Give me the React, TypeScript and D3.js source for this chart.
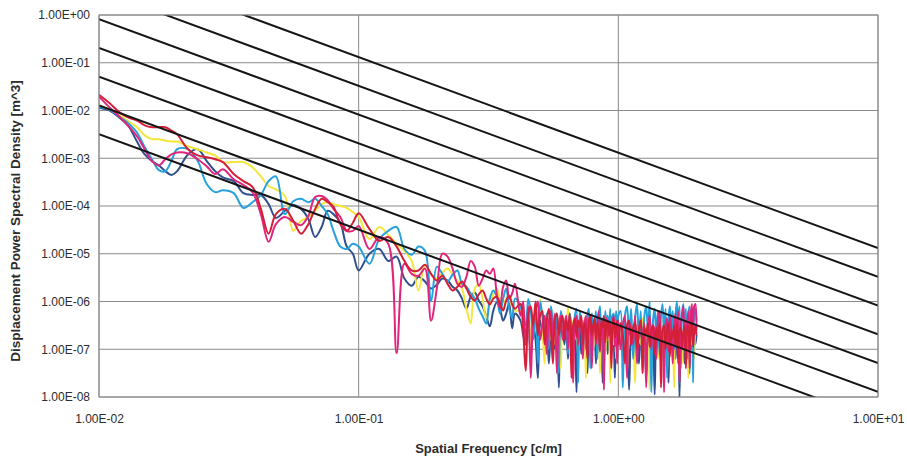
import React, { useEffect, useRef } from 'react';
import * as d3 from 'd3';

// spatial frequency [c/m], shared by all measured runs
const freqs = [
  0.010, 0.011, 0.012, 0.013, 0.014, 0.015, 0.016, 0.017, 0.018, 0.019,
  0.020, 0.022, 0.024, 0.026, 0.028, 0.030, 0.033, 0.036, 0.039, 0.042,
  0.045, 0.048, 0.052, 0.056, 0.060, 0.064, 0.068, 0.072, 0.076, 0.080,
  0.085, 0.090, 0.095, 0.100,
  0.11, 0.12, 0.13, 0.14, 0.15, 0.16, 0.17, 0.18, 0.19, 0.20,
  0.21, 0.22, 0.23, 0.24, 0.25, 0.26, 0.27, 0.28, 0.29, 0.30,
  0.31, 0.32, 0.33, 0.34, 0.35, 0.36, 0.37, 0.38, 0.39, 0.40,
  0.42, 0.43, 0.44, 0.45, 0.46, 0.47, 0.48, 0.49, 0.50, 0.51,
  0.52, 0.53, 0.54, 0.55, 0.56, 0.57, 0.58, 0.59, 0.60, 0.61,
  0.62, 0.63, 0.64, 0.65, 0.66, 0.67, 0.68, 0.69, 0.70, 0.71,
  0.72, 0.73, 0.74, 0.75, 0.76, 0.77, 0.78, 0.79, 0.80, 0.81,
  0.82, 0.83, 0.84, 0.85, 0.86, 0.87, 0.88, 0.89, 0.90, 0.91,
  0.92, 0.93, 0.94, 0.95, 0.96, 0.97, 0.98, 0.99, 1.00,
  1.02, 1.04, 1.06, 1.08, 1.10, 1.12, 1.14, 1.16, 1.18, 1.20,
  1.22, 1.24, 1.26, 1.28, 1.30, 1.32, 1.34, 1.36, 1.38, 1.40,
  1.42, 1.44, 1.46, 1.48, 1.50, 1.52, 1.54, 1.56, 1.58, 1.60,
  1.62, 1.64, 1.66, 1.68, 1.70, 1.72, 1.74, 1.76, 1.78, 1.80,
  1.82, 1.84, 1.86, 1.88, 1.90, 1.92, 1.94, 1.96, 1.98, 2.00
];

// log10 of displacement PSD [m^3] for each run
const darkBlueLog = [
  -1.94, -2.00, -2.15, -2.33, -2.65, -2.92, -3.06, -3.15, -3.27, -3.35,
  -3.27, -2.92, -2.81, -3.06, -3.27, -3.40, -3.48, -3.73, -3.77, -3.77,
  -3.96, -4.25, -4.10, -3.98, -4.06, -4.27, -4.65, -4.44, -4.10, -4.17,
  -4.35, -4.85, -5.00, -5.35,
  -5.00, -4.90, -5.15, -5.06, -5.52, -5.67, -5.48, -5.58, -5.73, -5.65,
  -5.52, -5.56, -5.69, -5.77, -5.94, -6.15, -5.90, -5.81, -5.98, -6.10,
  -6.31, -6.52, -6.19, -6.02, -6.15, -6.40, -6.25, -6.04, -6.56, -6.25,
  -6.4, -6.7, -6.9, -6.3, -7.2, -6.5, -6.8, -7.6, -6.4, -6.6,
  -6.9, -6.5, -7.3, -6.6, -6.4, -7.0, -6.45, -7.8, -6.6, -6.5,
  -6.9, -6.5, -7.2, -6.7, -6.55, -7.0, -6.5, -7.9, -6.6, -6.5,
  -7.1, -6.55, -6.8, -6.9, -7.5, -6.6, -6.45, -7.0, -6.7, -6.5,
  -7.3, -6.6, -6.8, -7.0, -6.55, -7.7, -6.6, -6.9, -6.5, -7.1,
  -6.7, -6.55, -7.2, -6.6, -6.8, -7.6, -6.65, -6.9, -6.6,
  -6.5, -7.2, -6.7, -6.55, -7.85, -6.6, -7.0, -6.75, -6.5, -7.3,
  -6.7, -6.95, -6.5, -7.6, -6.65, -6.8, -7.1, -6.6, -7.95, -6.7,
  -7.0, -6.55, -7.3, -6.7, -6.6, -7.05, -6.6, -7.7, -6.65, -6.8,
  -7.0, -6.5, -7.2, -6.7, -6.6, -8.0, -6.6, -6.9, -6.75, -7.3,
  -6.6, -7.0, -6.7, -7.5, -6.6, -6.85, -7.1, -6.6, -6.9, -6.7
];

const yellowLog = [
  -1.90, -1.98, -2.10, -2.23, -2.35, -2.52, -2.60, -2.60, -2.63, -2.65,
  -2.65, -2.75, -2.81, -2.88, -2.94, -3.08, -3.08, -3.08, -3.19, -3.38,
  -3.58, -3.65, -3.79, -4.52, -4.31, -4.23, -4.10, -3.96, -3.92, -3.96,
  -4.00, -4.04, -4.13, -4.23,
  -4.69, -4.44, -4.60, -4.79, -4.94, -5.15, -5.77, -5.23, -5.42, -5.52,
  -5.40, -5.31, -5.44, -5.56, -5.73, -6.15, -6.46, -5.73, -5.65, -5.94,
  -6.35, -6.04, -5.85, -5.73, -5.98, -6.19, -5.94, -5.90, -6.10, -6.19,
  -6.2, -6.5, -6.6, -6.1, -7.0, -6.3, -6.5, -6.7, -5.95, -6.5,
  -7.3, -6.3, -6.6, -6.8, -6.2, -6.9, -6.4, -6.6, -7.4, -6.3,
  -6.5, -6.7, -6.1, -7.1, -6.4, -6.6, -6.8, -6.3, -7.2, -6.5,
  -6.4, -6.9, -6.35, -7.6, -6.5, -6.6, -6.8, -6.4, -7.0, -6.5,
  -6.3, -6.9, -6.45, -7.5, -6.5, -6.7, -6.4, -7.1, -6.6, -6.8,
  -6.35, -7.7, -6.5, -6.6, -6.9, -6.4, -7.2, -6.5, -6.7,
  -7.0, -6.5, -6.7, -7.5, -6.4, -6.6, -6.8, -7.7, -6.5, -6.7,
  -6.9, -6.35, -7.1, -6.6, -6.5, -7.85, -6.5, -6.7, -6.9, -6.4,
  -7.2, -6.6, -6.5, -7.0, -6.3, -6.6, -7.5, -6.6, -6.7, -6.9,
  -6.45, -7.8, -6.5, -6.6, -7.0, -6.4, -6.7, -7.3, -6.6, -6.5,
  -6.9, -6.5, -7.6, -6.6, -6.7, -6.9, -6.5, -7.2, -6.6, -6.7
];

const cyanLog = [
  -1.92, -1.98, -2.13, -2.27, -2.46, -2.77, -3.02, -3.25, -3.27, -3.06,
  -2.81, -2.81, -3.06, -3.54, -3.71, -3.67, -3.73, -4.04, -3.92, -3.77,
  -3.48, -3.38, -4.17, -3.90, -3.85, -3.92, -3.85, -4.00, -4.17, -4.52,
  -4.85, -4.90, -4.79, -4.85,
  -5.21, -4.69, -4.52, -4.44, -4.90, -5.02, -4.85, -4.94, -6.00, -5.27,
  -5.42, -5.58, -5.44, -5.35, -5.63, -5.69, -5.83, -5.94, -6.15, -6.31,
  -6.46, -5.94, -5.77, -5.90, -6.25, -5.94, -5.73, -6.15, -6.35, -5.94,
  -6.1, -6.35, -6.5, -5.95, -6.2, -6.8, -6.1, -7.3, -6.0, -6.3,
  -6.6, -6.25, -7.0, -6.1, -6.45, -6.7, -6.3, -7.5, -6.2, -6.4,
  -6.6, -6.35, -7.1, -6.25, -6.5, -6.8, -6.3, -6.15, -7.7, -6.2,
  -6.5, -6.7, -6.4, -7.0, -6.3, -6.15, -7.4, -6.25, -6.5, -6.6,
  -6.2, -7.2, -6.3, -6.1, -6.8, -6.35, -7.6, -6.2, -6.45, -6.3,
  -6.7, -6.15, -7.0, -6.3, -6.25, -6.9, -6.2, -6.5, -6.3,
  -6.2, -7.8, -6.3, -6.1, -6.7, -6.15, -7.2, -6.35, -6.05, -6.8,
  -6.2, -7.5, -6.3, -6.1, -6.6, -6.0, -7.9, -6.4, -6.15, -6.7,
  -6.2, -7.1, -6.3, -6.05, -6.75, -6.15, -7.6, -6.35, -6.1, -6.6,
  -6.2, -7.0, -6.3, -6.0, -6.5, -6.1, -7.4, -6.25, -6.05, -6.7,
  -6.15, -7.2, -6.3, -6.1, -6.6, -6.2, -7.7, -6.25, -6.15, -6.4
];

const magentaLog = [
  -1.71, -1.94, -2.13, -2.33, -2.54, -2.81, -3.06, -3.15, -3.02, -2.92,
  -2.88, -2.90, -3.02, -3.17, -3.33, -3.23, -3.44, -3.56, -3.71, -4.17,
  -4.75, -4.38, -4.23, -4.33, -4.40, -4.21, -3.81, -3.79, -3.88, -4.06,
  -4.23, -4.52, -4.52, -4.42,
  -4.90, -4.65, -4.79, -7.08, -5.21, -5.42, -5.46, -5.31, -6.40, -5.73,
  -5.00, -5.06, -5.31, -5.63, -5.69, -5.48, -5.15, -5.27, -5.67, -5.52,
  -5.35, -5.42, -5.31, -5.83, -6.15, -5.69, -5.56, -5.94, -5.83, -5.63,
  -6.3, -6.0, -6.9, -6.1, -7.6, -6.4, -6.2, -6.0, -6.8, -6.5,
  -6.3, -7.1, -6.4, -6.2, -6.9, -6.25, -7.5, -6.5, -6.3, -6.8,
  -6.5, -6.3, -7.0, -6.4, -6.6, -7.7, -6.5, -6.3, -6.9, -6.6,
  -6.35, -7.2, -6.5, -6.3, -6.8, -6.55, -6.3, -7.4, -6.6, -6.4,
  -6.9, -6.5, -6.2, -7.0, -6.45, -6.6, -7.85, -6.5, -6.35, -6.8,
  -6.4, -6.6, -7.1, -6.45, -6.3, -6.95, -6.5, -7.3, -6.4,
  -7.0, -6.5, -6.3, -7.6, -6.45, -6.6, -6.9, -6.3, -7.3, -6.6,
  -6.4, -6.95, -6.45, -7.8, -6.55, -6.3, -7.0, -6.5, -6.6, -7.2,
  -6.4, -6.2, -6.9, -6.6, -7.9, -6.5, -6.35, -7.05, -6.3, -6.6,
  -7.3, -6.5, -6.25, -6.9, -6.2, -7.7, -6.5, -6.3, -6.1, -7.0,
  -6.4, -6.55, -6.2, -7.4, -6.3, -6.05, -6.8, -6.1, -6.05, -6.6
];

const redLog = [
  -1.67, -1.85, -2.04, -2.15, -2.21, -2.31, -2.35, -2.35, -2.35, -2.42,
  -2.50, -2.81, -2.94, -2.98, -3.02, -3.08, -3.33, -3.48, -3.60, -4.06,
  -4.58, -4.17, -4.06, -4.31, -4.58, -4.38, -4.06, -3.85, -3.92, -4.02,
  -4.38, -4.52, -4.35, -4.15,
  -4.48, -4.73, -4.65, -4.85, -5.15, -5.35, -5.35, -5.23, -5.42, -5.56,
  -5.46, -5.63, -5.77, -5.69, -5.58, -5.73, -5.90, -5.98, -5.85, -5.77,
  -5.94, -6.06, -5.94, -5.90, -6.04, -6.19, -5.98, -5.88, -6.06, -6.15,
  -6.05, -6.6, -7.45, -6.3, -6.1, -6.5, -6.0, -6.7, -6.3, -6.2,
  -6.9, -6.4, -6.15, -6.6, -7.3, -6.35, -6.25, -6.7, -6.45, -6.3,
  -6.8, -6.4, -6.6, -6.25, -7.6, -6.5, -6.35, -6.75, -6.4, -6.55,
  -6.3, -6.9, -6.45, -6.6, -7.2, -6.4, -6.3, -6.7, -6.5, -6.35,
  -6.8, -6.45, -6.6, -7.05, -6.4, -6.55, -6.3, -6.85, -6.5, -6.4,
  -6.7, -6.45, -7.4, -6.5, -6.35, -6.75, -6.55, -6.4, -6.9,
  -6.45, -6.7, -7.3, -6.5, -6.4, -6.9, -6.55, -6.45, -7.0, -6.6,
  -6.4, -7.5, -6.55, -6.7, -6.45, -6.95, -6.6, -6.5, -7.1, -6.55,
  -6.8, -6.45, -7.8, -6.6, -6.5, -7.0, -6.6, -6.45, -7.15, -6.6,
  -6.75, -6.5, -6.95, -6.45, -7.3, -6.6, -6.55, -7.0, -6.65, -6.5,
  -7.4, -6.6, -6.5, -7.05, -6.6, -6.4, -6.95, -6.65, -6.5, -6.7
];

// road class limits Gd(n0) [m^3] at n0 = 0.1 c/m, waviness 2
const classLimits = [32e-6, 128e-6, 512e-6, 2048e-6, 8192e-6, 32768e-6, 131072e-6];
const refFreq = 0.1;
const waviness = 2;

const xTicks = [1e-2, 1e-1, 1e0, 1e1];
const yTicks = [1e0, 1e-1, 1e-2, 1e-3, 1e-4, 1e-5, 1e-6, 1e-7, 1e-8];

const runs = [
  { values: darkBlueLog, color: '#2f4f8f' },
  { values: yellowLog, color: '#f6e63c' },
  { values: cyanLog, color: '#26a1dc' },
  { values: magentaLog, color: '#e0257c' },
  { values: redLog, color: '#d41f38' }
];

function fmtExp(v: number) {
  const e = Math.round(Math.log10(v));
  return `1.00E${e < 0 ? '-' : '+'}${String(Math.abs(e)).padStart(2, '0')}`;
}

export default function App() {
  const ref = useRef<SVGSVGElement>(null);

  useEffect(() => {
    const width = 907;
    const height = 458;
    const margin = { top: 15, left: 99, right: 29, bottom: 61 };
    const iw = width - margin.left - margin.right;
    const ih = height - margin.top - margin.bottom;
    const font = '"Liberation Sans", Arial, sans-serif';

    const svg = d3.select(ref.current);
    svg.selectAll('*').remove();

    svg.append('rect').attr('width', width).attr('height', height).attr('fill', '#ffffff');

    svg.append('defs').append('clipPath').attr('id', 'plot-clip')
      .append('rect').attr('width', iw).attr('height', ih);

    const g = svg.append('g').attr('transform', `translate(${margin.left},${margin.top})`);

    const x = d3.scaleLog().domain([1e-2, 1e1]).range([0, iw]);
    const y = d3.scaleLog().domain([1e-8, 1]).range([ih, 0]);

    // grid
    g.selectAll('.hgrid').data(yTicks).enter().append('line')
      .attr('x1', 0).attr('x2', iw)
      .attr('y1', d => y(d)).attr('y2', d => y(d))
      .attr('stroke', '#8a8a8a').attr('stroke-width', 1);
    g.selectAll('.vgrid').data(xTicks).enter().append('line')
      .attr('x1', d => x(d)).attr('x2', d => x(d))
      .attr('y1', 0).attr('y2', ih)
      .attr('stroke', '#8a8a8a').attr('stroke-width', 1);

    // measured spectra
    const line = d3.line<number>()
      .x((_, i) => x(freqs[i]))
      .y(d => y(Math.pow(10, d)))
      .curve(d3.curveCatmullRom.alpha(0.5));

    const plot = g.append('g').attr('clip-path', 'url(#plot-clip)');
    runs.forEach(r => {
      plot.append('path')
        .attr('d', line(r.values))
        .attr('fill', 'none')
        .attr('stroke', r.color)
        .attr('stroke-width', 2)
        .attr('stroke-linejoin', 'round');
    });

    // class boundary lines
    const ends = [1e-2, 1e1];
    classLimits.forEach(gd0 => {
      const pts = ends.map(n => [x(n), y(gd0 * Math.pow(n / refFreq, -waviness))] as [number, number]);
      plot.append('path')
        .attr('d', d3.line()(pts))
        .attr('fill', 'none')
        .attr('stroke', '#151515')
        .attr('stroke-width', 2);
    });

    g.append('rect')
      .attr('width', iw).attr('height', ih)
      .attr('fill', 'none').attr('stroke', '#8a8a8a');

    // axes
    const yAxis = g.append('g')
      .call(d3.axisLeft(y).tickValues(yTicks).tickFormat(d => fmtExp(+d)).tickSize(0).tickPadding(9));
    yAxis.select('.domain').remove();

    const xAxis = g.append('g')
      .attr('transform', `translate(0,${ih})`)
      .call(d3.axisBottom(x).tickValues(xTicks).tickFormat(d => fmtExp(+d)).tickSize(0).tickPadding(17));
    xAxis.select('.domain').remove();

    svg.selectAll('.tick text')
      .attr('font-family', font)
      .attr('font-size', 12)
      .attr('fill', '#2b2b2b');

    svg.append('text')
      .attr('x', margin.left + iw / 2)
      .attr('y', 453)
      .attr('text-anchor', 'middle')
      .attr('font-family', font)
      .attr('font-size', 13)
      .attr('font-weight', 'bold')
      .attr('fill', '#2b2b2b')
      .text('Spatial Frequency [c/m]');

    svg.append('text')
      .attr('transform', 'translate(20,221) rotate(-90)')
      .attr('text-anchor', 'middle')
      .attr('font-family', font)
      .attr('font-size', 13.5)
      .attr('font-weight', 'bold')
      .attr('fill', '#2b2b2b')
      .text('Displacement Power Spectral Density [m^3]');
  }, []);

  return (
    <div>
      <svg ref={ref} width={907} height={458} style={{ position: 'absolute', left: 0, top: 0 }} />
    </div>
  );
}
